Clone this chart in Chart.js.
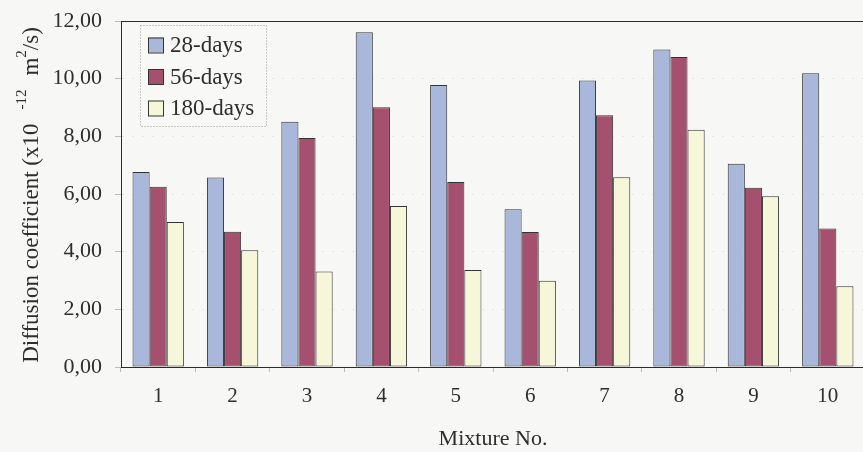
<!DOCTYPE html>
<html>
<head>
<meta charset="utf-8">
<script src="https://cdn.jsdelivr.net/npm/chart.js@4.4.0/dist/chart.umd.min.js"></script>
<style>
    html, body { margin: 0; padding: 0; background: #f7f7f5; overflow: hidden; }
    #wrap { width: 866px; height: 452px; }
</style>
</head>
<body>
<div id="wrap"><canvas id="chart" width="866" height="452"></canvas></div>
<script>
// Données
const mixtures = ['1', '2', '3', '4', '5', '6', '7', '8', '9', '10'];
const days28 = [6.76, 6.57, 8.51, 11.61, 9.78, 5.47, 9.94, 11.01, 7.05, 10.19];
const days56 = [6.25, 4.69, 7.94, 9.01, 6.42, 4.68, 8.73, 10.75, 6.22, 4.80];
const days180 = [5.03, 4.05, 3.31, 5.58, 3.36, 2.99, 6.58, 8.23, 5.92, 2.80];
const seriesLabels = ['28-days', '56-days', '180-days'];
const yMin = 0, yMax = 12, yStep = 2;

const FONT = "'Liberation Serif', 'Times New Roman', serif";
const TEXT = '#2e2e2e';

/**
 * Titre de l'axe Y avec exposants (x10^-12 m^2/s)
 */
function drawYTitle(ctx, cx, cy) {
    const big = '23px ' + FONT;
    const small = '15px ' + FONT;
    const parts = [
        { t: 'Diffusion coefficient (x10', f: big, dy: 0 },
        { t: '', f: big, dy: 0, gap: 14 },
        { t: '-12', f: small, dy: -12 },
        { t: '', f: big, dy: 0, gap: 14 },
        { t: 'm', f: big, dy: 0 },
        { t: '2', f: small, dy: -12 },
        { t: '/s)', f: big, dy: 0 },
    ];
    let total = 0;
    parts.forEach(p => {
        ctx.font = p.f;
        p.w = p.gap || ctx.measureText(p.t).width;
        total += p.w;
    });
    ctx.save();
    ctx.translate(cx, cy);
    ctx.rotate(-Math.PI / 2);
    ctx.fillStyle = TEXT;
    ctx.textBaseline = 'alphabetic';
    let x = -total / 2;
    parts.forEach(p => {
        ctx.font = p.f;
        if (p.t) ctx.fillText(p.t, x, 8 + p.dy);
        x += p.w;
    });
    ctx.restore();
}

/**
 * Cadre du graphique + légende dans la zone de tracé
 */
const framePlugin = {
    id: 'frame',
    afterDraw(chart) {
        const { ctx, chartArea: a } = chart;
        ctx.save();
        ctx.strokeStyle = '#2a2a2a';
        ctx.lineWidth = 1;
        ctx.strokeRect(a.left + 0.5, a.top + 0.5, a.right - a.left, a.bottom - a.top);

        // Légende
        const bx = a.left + 19, by = a.top + 4, bw = 126, bh = 101;
        ctx.fillStyle = '#f8f8f6';
        ctx.fillRect(bx, by, bw, bh);
        ctx.setLineDash([1, 2]);
        ctx.strokeStyle = '#9a9a9a';
        ctx.strokeRect(bx + 0.5, by + 0.5, bw, bh);
        ctx.setLineDash([]);

        ctx.font = '23px ' + FONT;
        ctx.textBaseline = 'middle';
        chart.data.datasets.forEach((ds, i) => {
            const cy = by + 20 + i * 31.5;
            ctx.fillStyle = ds.backgroundColor;
            ctx.fillRect(bx + 8, cy - 7.5, 15, 15);
            ctx.strokeStyle = '#333';
            ctx.strokeRect(bx + 8.5, cy - 7, 15, 15);
            ctx.fillStyle = TEXT;
            ctx.fillText(ds.label, bx + 30, cy + 1);
        });
        ctx.restore();

        drawYTitle(ctx, 30, 195);
    }
};

function makeDataset(label, data, color) {
    return {
        label: label,
        data: data,
        backgroundColor: color,
        borderColor: '#333',
        borderWidth: 1,
        borderSkipped: false,
        categoryPercentage: 0.69,
        barPercentage: 1.0,
    };
}

new Chart(document.getElementById('chart'), {
    type: 'bar',
    data: {
        labels: mixtures,
        datasets: [
            makeDataset(seriesLabels[0], days28, '#a9b7da'),
            makeDataset(seriesLabels[1], days56, '#a5506f'),
            makeDataset(seriesLabels[2], days180, '#f6f7d8'),
        ]
    },
    options: {
        responsive: false,
        animation: false,
        devicePixelRatio: 1,
        layout: { padding: { left: 0, right: 1, top: 21, bottom: 0 } },
        plugins: {
            legend: { display: false },
            tooltip: { enabled: false },
        },
        scales: {
            x: {
                grid: { display: true, drawOnChartArea: false, tickLength: 5, color: '#bbb' },
                border: { display: true, color: '#2a2a2a' },
                ticks: { color: TEXT, font: { family: FONT, size: 21 }, padding: 12, maxRotation: 0 },
                title: {
                    display: true,
                    text: 'Mixture No.',
                    color: TEXT,
                    font: { family: FONT, size: 22 },
                    padding: { top: 0, bottom: 0 },
                },
                afterFit(scale) {
                    scale.height = 85;
                    scale.paddingLeft = 0;
                    scale.paddingRight = 0;
                },
            },
            y: {
                min: yMin,
                max: yMax,
                grid: {
                    color: 'rgba(0,0,0,0.07)',
                    tickColor: '#bbb',
                    tickLength: 6,
                    drawTicks: true,
                },
                border: { display: true, color: '#2a2a2a', dash: [2, 8] },
                ticks: {
                    stepSize: yStep,
                    color: TEXT,
                    font: { family: FONT, size: 22 },
                    padding: 13,
                    callback: (v) => v.toFixed(2).replace('.', ','),
                },
                afterFit(scale) {
                    scale.width = 121;
                    scale.paddingTop = 0;
                    scale.paddingBottom = 0;
                },
            }
        }
    },
    plugins: [framePlugin]
});
</script>
</body>
</html>
